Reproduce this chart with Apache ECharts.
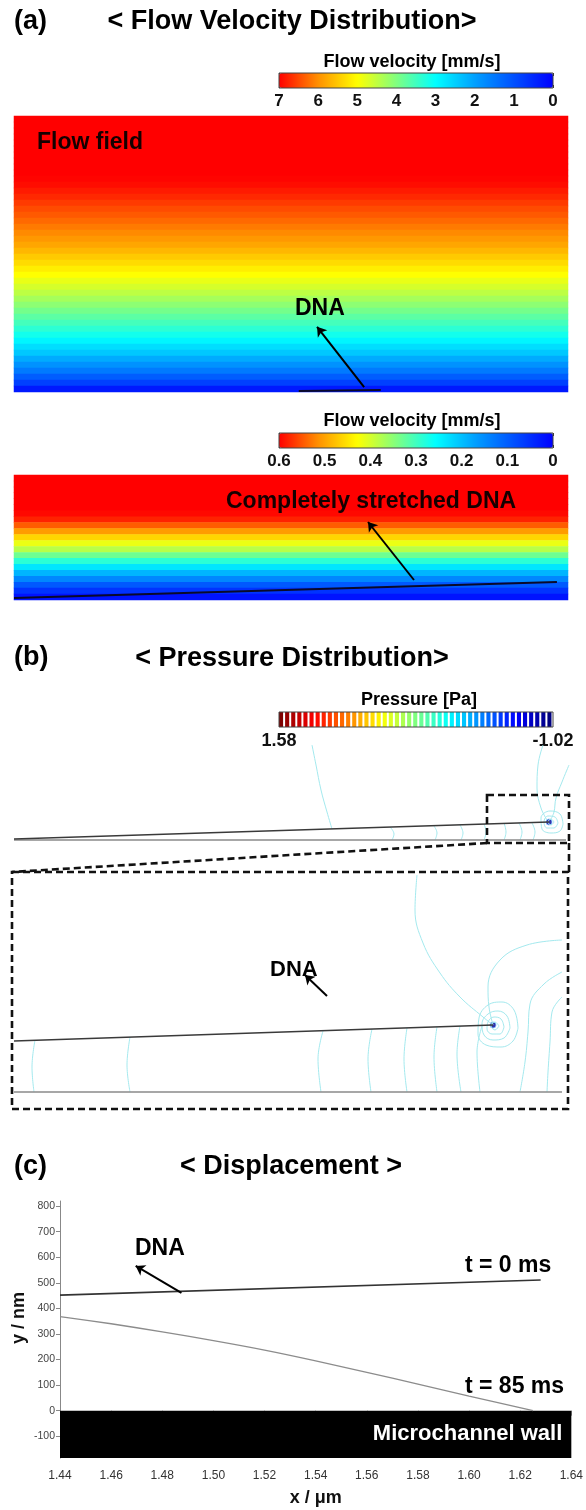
<!DOCTYPE html>
<html>
<head>
<meta charset="utf-8">
<script src="https://cdn.jsdelivr.net/npm/echarts@6/dist/echarts.min.js"></script>
<style>
  html, body { margin: 0; padding: 0; background: #fff; }
  #chart { width: 586px; height: 1510px; }
</style>
</head>
<body>
<div id="chart"></div>
<script>
const FONT = '"Liberation Sans", Arial, Helvetica, sans-serif';
const bold = (size) => `bold ${size}px ${FONT}`;

// ---- (a) flow velocity [mm/s], one value per row from channel top down to the wall ----
const velocityRows1 = [
  7.0, 7.0, 7.0, 7.0, 7.0, 7.0, 7.0, 7.0, 7.0, 7.0,
  6.97, 6.92, 6.82, 6.72, 6.6, 6.48, 6.38, 6.27, 6.15, 6.04,
  5.93, 5.8, 5.65, 5.48, 5.32, 5.15, 5.0, 4.83, 4.67, 4.48,
  4.29, 4.1, 3.91, 3.72, 3.53, 3.34, 3.14, 2.9, 2.65, 2.42,
  2.12, 1.82, 1.52, 1.16, 0.8, 0.3
];
const velocityRows2 = [
  0.6, 0.6, 0.6, 0.6, 0.6, 0.6, 0.595, 0.58, 0.545, 0.505, 0.46,
  0.415, 0.38, 0.33, 0.285, 0.235, 0.19, 0.145, 0.095, 0.055, 0.02
];
const velocityTicks1 = [0, 1, 2, 3, 4, 5, 6, 7];
const velocityTicks2 = [0, 0.1, 0.2, 0.3, 0.4, 0.5, 0.6];
const jetColors = ['#0000ff', '#0050ff', '#00a0ff', '#00ffff', '#80ff80', '#ffff00', '#ff9000', '#ff0000'];

// DNA and arrows inside the flow fields (% of field width, % of height above the wall)
const dnaField1 = [[51.4, 0.4], [66.2, 0.7]];
const arrowField1 = [[63.2, 1.8], [54.7, 23.6]];
const dnaField2 = [[0, 1.6], [98.0, 14.4]];
const arrowField2 = [[72.2, 16], [63.9, 62.4]];

// ---- (b) pressure [Pa] ----
const pressureTicks = [-1.02, 1.58];
const pressureColors = ['#00007f', '#0000ff', '#007fff', '#00ffff', '#7fff7f', '#ffff00', '#ff7f00', '#ff0000', '#7f0000'];

// full channel view (x along wall, y above wall)
const fullWall = [[0, 0], [552, 0]];
const fullDna = [[0, 1], [535, 18]];
const fullTip = [[535, 18, -0.95]];
const fullContours = [
  [[298, 95], [302, 75], [307, 50], [313, 28], [318, 11]],
  [[529, 95], [524, 75], [523, 52], [527, 32], [533, 20]],
  [[555, 75], [548, 58], [542, 42], [540, 28], [537, 21]],
  [[376, 13], [380, 6], [378, 0]],
  [[420, 14], [423, 7], [421, 0]],
  [[446, 15], [449, 7], [447, 0]],
  [[470, 16], [472, 8], [470, 0]],
  [[490, 17], [492, 8], [490, 0]],
  [[505, 17], [508, 8], [506, 0]],
  [[518, 17], [521, 8], [519, 0]],
  [[540, 18], [537, 21], [534, 18], [537, 15], [540, 18]],
  [[544, 17], [541, 23], [534, 24], [530, 18], [533, 12], [540, 12], [544, 17]],
  [[549, 16], [546, 26], [536, 29], [527, 22], [528, 11], [537, 7], [546, 9], [549, 16]]
];

// magnified view near the DNA end
const zoomWall = [[0, 0], [548, 0]];
const zoomDna = [[0, 51], [479, 67]];
const zoomTip = [[479, 67, -0.95]];
const zoomArrow = [[313, 96], [291, 117]];
const zoomContours = [
  [[403, 217], [401, 182], [409, 149], [426, 119], [446, 95], [469, 75], [479, 67]],
  [[479, 67], [475, 85], [474, 105], [486, 132], [513, 147], [548, 152]],
  [[485, 66], [481, 70], [477, 66], [481, 62], [485, 66]],
  [[490, 65], [487, 73], [480, 75], [474, 70], [473, 63], [478, 58], [486, 58], [490, 65]],
  [[496, 64], [493, 76], [484, 81], [474, 78], [468, 68], [470, 57], [479, 52], [490, 54], [496, 64]],
  [[504, 64], [500, 82], [488, 90], [474, 87], [465, 74], [464, 58], [472, 47], [487, 45], [499, 51], [504, 64]],
  [[548, 120], [530, 108], [516, 88], [514, 60], [511, 30], [506, 0]],
  [[548, 95], [538, 80], [536, 50], [534, 20], [533, 0]],
  [[21, 52], [18, 25], [20, 0]],
  [[116, 55], [113, 27], [116, 0]],
  [[309, 61], [304, 33], [307, 0]],
  [[358, 63], [354, 33], [357, 0]],
  [[393, 64], [390, 33], [393, 0]],
  [[423, 65], [420, 35], [423, 0]],
  [[446, 66], [443, 38], [447, 0]],
  [[468, 66], [463, 40], [466, 0]]
];

// ---- (c) displacement ----
const xTicks = [1.44, 1.46, 1.48, 1.50, 1.52, 1.54, 1.56, 1.58, 1.60, 1.62, 1.64];
const yTicks = [-100, 0, 100, 200, 300, 400, 500, 600, 700, 800];
const dnaT0 = [[1.44, 452], [1.628, 511]];
const dnaT85 = [[1.44, 368], [1.46, 340], [1.48, 308], [1.50, 274], [1.52, 237], [1.54, 195], [1.56, 150], [1.58, 104], [1.60, 57], [1.625, 0]];
const dnaArrow = [[1.4875, 461], [1.4696, 566]];
const wallTop = 0;
const yMin = -185, yMax = 820;

const chart = echarts.init(document.getElementById('chart'));

const hiddenValue = (gridIndex, min, max) => ({ type: 'value', gridIndex, min, max, show: false });
const hiddenCategory = (gridIndex, data, inverse) => ({ type: 'category', gridIndex, data, inverse, show: false });

function colorbarAxis(gridIndex, min, max, ticks, fmt, position, labels) {
  return {
    type: 'value', gridIndex, min, max, inverse: true, position,
    axisLine: { show: false },
    splitLine: { show: false },
    axisTick: ticks.length > 2 ? { show: true, inside: true, length: 3, customValues: ticks, lineStyle: { color: '#333' } } : { show: false },
    axisLabel: {
      show: labels, customValues: ticks, formatter: fmt, margin: 5,
      color: '#111', fontSize: 17, fontWeight: 'bold', fontFamily: FONT
    }
  };
}

const cbGrid = (top) => ({ left: 279, top, width: 274, height: 15, show: true, borderColor: '#444', borderWidth: 1, backgroundColor: 'transparent', z: 6 });

const grid = [
  { left: 14, top: 116, width: 554, height: 276 },  // 0 field 1
  { left: 14, top: 116, width: 554, height: 276 },  // 1 overlay 1
  cbGrid(73),                                        // 2 colorbar 1
  { left: 14, top: 475, width: 554, height: 125 },  // 3 field 2
  { left: 14, top: 475, width: 554, height: 125 },  // 4 overlay 2
  cbGrid(433),                                       // 5 colorbar 2
  cbGrid(712),                                       // 6 pressure colorbar
  { left: 14, top: 745, width: 555, height: 95 },   // 7 full channel
  { left: 14, top: 875, width: 548, height: 217 },  // 8 magnified
  { left: 60, top: 1201, width: 517, height: 257 }  // 9 displacement
];

const fmt1 = (v) => String(Math.round(v));
const fmt2 = (v) => (v === 0 ? '0' : v.toFixed(1));
const fmtP = (v) => v.toFixed(2);

const xAxis = [
  hiddenCategory(0, ['v']),
  hiddenValue(1, 0, 100),
  colorbarAxis(2, 0, 7, velocityTicks1, fmt1, 'bottom', true),
  colorbarAxis(2, 0, 7, velocityTicks1, fmt1, 'top', false),
  hiddenCategory(3, ['v']),
  hiddenValue(4, 0, 100),
  colorbarAxis(5, 0, 0.6, velocityTicks2, fmt2, 'bottom', true),
  colorbarAxis(5, 0, 0.6, velocityTicks2, fmt2, 'top', false),
  colorbarAxis(6, -1.02, 1.58, pressureTicks, fmtP, 'bottom', true),
  hiddenValue(7, 0, 555),
  hiddenValue(8, 0, 548),
  {
    type: 'value', gridIndex: 9, min: 1.44, max: 1.64,
    name: 'x / μm', nameLocation: 'middle', nameGap: 31,
    nameTextStyle: { fontSize: 18, fontWeight: 'bold', fontFamily: FONT, color: '#111' },
    axisLine: { show: false },
    splitLine: { show: false },
    axisTick: { show: true, length: 5, customValues: xTicks, lineStyle: { color: '#888' } },
    axisLabel: { customValues: xTicks, formatter: (v) => v.toFixed(2), margin: 12, fontSize: 12, color: '#333', fontFamily: FONT }
  }
];
xAxis[8].axisLabel.fontSize = 18;

const yAxis = [
  hiddenCategory(0, velocityRows1.map((_, i) => String(i)), true),
  hiddenValue(1, 0, 100),
  hiddenValue(2, 0, 1),
  hiddenCategory(3, velocityRows2.map((_, i) => String(i)), true),
  hiddenValue(4, 0, 100),
  hiddenValue(5, 0, 1),
  hiddenValue(6, 0, 1),
  hiddenValue(7, 0, 95),
  hiddenValue(8, 0, 217),
  {
    type: 'value', gridIndex: 9, min: yMin, max: yMax,
    axisLine: { show: true, lineStyle: { color: '#888', width: 1 } },
    splitLine: { show: false },
    axisTick: { show: true, length: 4, customValues: yTicks, lineStyle: { color: '#888' } },
    axisLabel: { customValues: yTicks, margin: 5, fontSize: 10.5, color: '#444', fontFamily: FONT }
  }
];

const arrowMark = (from, to) => ({
  silent: true,
  symbol: ['none', 'arrow'],
  symbolSize: 9,
  label: { show: false },
  lineStyle: { color: '#000', width: 2, type: 'solid' },
  emphasis: { disabled: true },
  data: [[{ coord: from }, { coord: to }]]
});

const series = [];
series.push({
  type: 'heatmap', xAxisIndex: 0, yAxisIndex: 0,
  data: velocityRows1.map((v, i) => [0, i, v]),
  itemStyle: { borderWidth: 0 }, emphasis: { disabled: true }, progressive: 0
});
series.push({
  type: 'line', xAxisIndex: 1, yAxisIndex: 1, data: dnaField1, clip: false,
  symbol: 'none', lineStyle: { color: '#0a0a2a', width: 2 },
  markLine: arrowMark(arrowField1[0], arrowField1[1])
});
series.push({
  type: 'heatmap', xAxisIndex: 4, yAxisIndex: 3,
  data: velocityRows2.map((v, i) => [0, i, v]),
  itemStyle: { borderWidth: 0 }, emphasis: { disabled: true }, progressive: 0
});
series.push({
  type: 'line', xAxisIndex: 5, yAxisIndex: 4, data: dnaField2, clip: false,
  symbol: 'none', lineStyle: { color: '#0a0a2a', width: 1.8 },
  markLine: arrowMark(arrowField2[0], arrowField2[1])
});

const contourStyle = { color: '#a4e9ee', width: 1 };
const tipIndex = [];

function addDomain(xi, yi, wall, dna, contours, tip, arrow) {
  contours.forEach((c) => series.push({
    type: 'line', xAxisIndex: xi, yAxisIndex: yi, data: c, smooth: 0.4,
    symbol: 'none', lineStyle: contourStyle, silent: true
  }));
  series.push({
    type: 'line', xAxisIndex: xi, yAxisIndex: yi, data: wall, clip: false,
    symbol: 'none', lineStyle: { color: '#8a8a8a', width: 1.3 }
  });
  const dnaSeries = {
    type: 'line', xAxisIndex: xi, yAxisIndex: yi, data: dna, clip: false,
    symbol: 'none', lineStyle: { color: '#3a3a3a', width: 1.3 }
  };
  if (arrow) dnaSeries.markLine = arrowMark(arrow[0], arrow[1]);
  series.push(dnaSeries);
  tipIndex.push(series.length);
  series.push({
    type: 'scatter', xAxisIndex: xi, yAxisIndex: yi, data: tip,
    symbolSize: 6, clip: false, itemStyle: { borderColor: '#7fb8ff', borderWidth: 1 }
  });
}
addDomain(9, 7, fullWall, fullDna, fullContours, fullTip, null);
addDomain(10, 8, zoomWall, zoomDna, zoomContours, zoomTip, zoomArrow);

series.push({
  type: 'line', xAxisIndex: 11, yAxisIndex: 9, data: dnaT85, smooth: 0.3,
  symbol: 'none', lineStyle: { color: '#8c8c8c', width: 1.3 },
  markArea: {
    silent: true,
    itemStyle: { color: '#000', opacity: 1 },
    label: { show: true, position: 'insideRight', distance: 9, color: '#fff', fontSize: 22, fontWeight: 'bold', fontFamily: FONT },
    data: [[{ name: 'Microchannel wall', coord: [1.44, wallTop] }, { coord: [1.64, yMin] }]]
  }
});
series.push({
  type: 'line', xAxisIndex: 11, yAxisIndex: 9, data: dnaT0,
  symbol: 'none', lineStyle: { color: '#333', width: 1.6 },
  markLine: arrowMark(dnaArrow[0], dnaArrow[1])
});

const visualMap = [
  {
    type: 'continuous', seriesIndex: 0, min: 0, max: 7, orient: 'horizontal', inverse: true,
    left: 279, top: 73, itemWidth: 15, itemHeight: 274, padding: 0,
    calculable: false, realtime: false, hoverLink: false, text: null,
    inRange: { color: jetColors }
  },
  {
    type: 'continuous', seriesIndex: 2, min: 0, max: 0.6, orient: 'horizontal', inverse: true,
    left: 279, top: 433, itemWidth: 15, itemHeight: 274, padding: 0,
    calculable: false, realtime: false, hoverLink: false, text: null,
    inRange: { color: jetColors }
  },
  {
    type: 'piecewise', seriesIndex: tipIndex, min: -1.02, max: 1.58, splitNumber: 45,
    orient: 'horizontal', inverse: true, left: 279, top: 712, padding: 0,
    itemWidth: 4.1, itemHeight: 15, itemGap: 2, itemSymbol: 'rect', showLabel: false,
    selectedMode: false, hoverLink: false,
    inRange: { color: pressureColors }
  }
];

const label = (text, x, y, size, align, fill, extra) => Object.assign({
  type: 'text', x, y, silent: true, z: 20,
  style: { text, font: bold(size), fill: fill || '#000', align: align || 'left', verticalAlign: 'middle' }
}, extra || {});
const dashed = { fill: 'none', stroke: '#111', lineWidth: 2.6, lineDash: [7, 4] };

const graphic = [
  label('(a)', 14, 22, 27),
  label('< Flow Velocity Distribution>', 292, 22, 27, 'center'),
  label('Flow velocity [mm/s]', 412, 62, 18, 'center'),
  label('Flow field', 37, 143, 23, 'left', '#150000'),
  label('DNA', 295, 309, 23),
  label('Flow velocity [mm/s]', 412, 421, 18, 'center'),
  label('Completely stretched DNA', 226, 502, 23, 'left', '#150000'),
  label('(b)', 14, 658, 27),
  label('< Pressure Distribution>', 292, 659, 27, 'center'),
  label('Pressure [Pa]', 419, 700, 18, 'center'),
  label('DNA', 270, 970, 22),
  label('(c)', 14, 1167, 27),
  label('< Displacement >', 291, 1167, 27, 'center'),
  label('DNA', 135, 1249, 23),
  label('t = 0 ms', 465, 1266, 23),
  label('t = 85 ms', 465, 1387, 23),
  label('y / nm', 19, 1318, 18, 'center', '#111', { rotation: Math.PI / 2 }),
  { type: 'rect', silent: true, z: 20, shape: { x: 487, y: 795, width: 82, height: 48 }, style: dashed },
  { type: 'polyline', silent: true, z: 20, shape: { points: [[487, 843], [12, 872]] }, style: dashed },
  { type: 'polyline', silent: true, z: 20, shape: { points: [[569, 843], [569, 872]] }, style: dashed },
  { type: 'rect', silent: true, z: 20, shape: { x: 12, y: 872, width: 556, height: 237 }, style: dashed }
];

chart.setOption({
  animation: false,
  backgroundColor: '#fff',
  grid, xAxis, yAxis, visualMap, series, graphic
});
</script>
</body>
</html>
